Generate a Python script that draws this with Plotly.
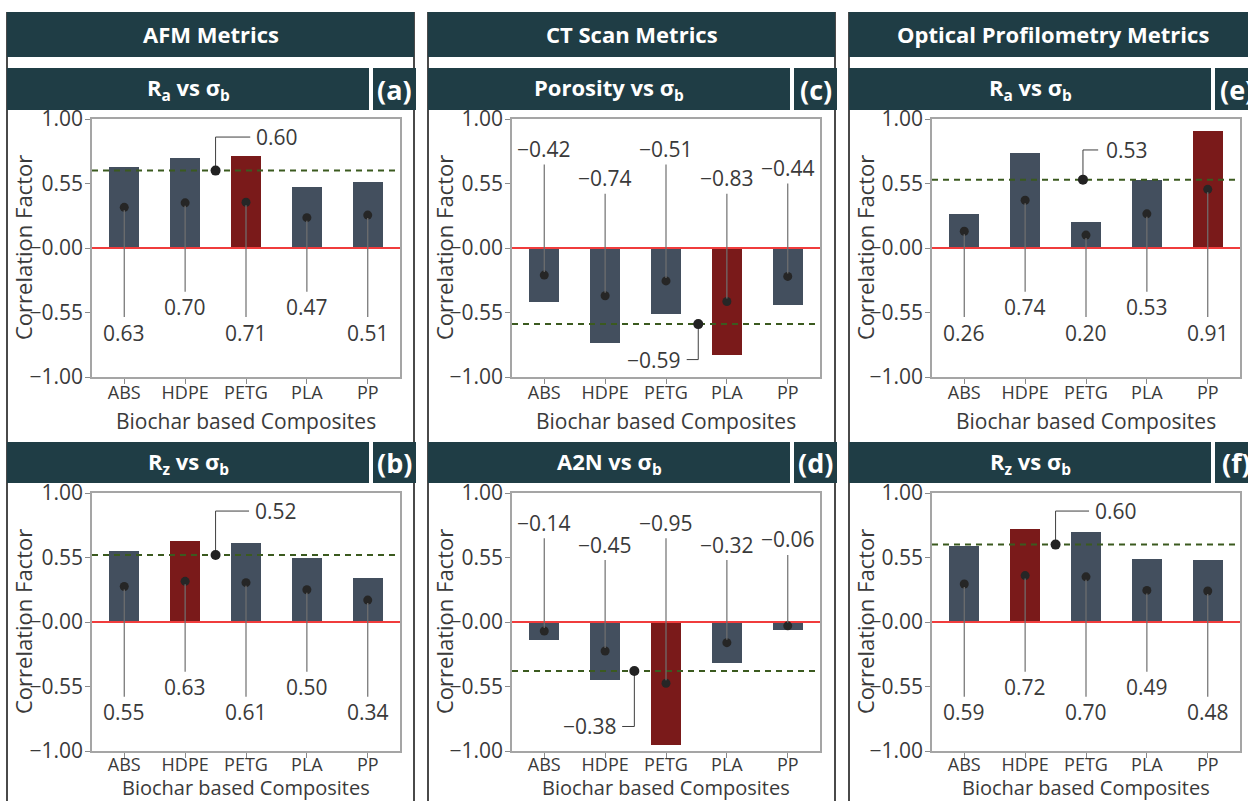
import numpy as np
import plotly.graph_objects as go

# ---------------- data ----------------
categories = ["ABS", "HDPE", "PETG", "PLA", "PP"]

afm_ra = [0.63, 0.70, 0.71, 0.47, 0.51]
afm_rz = [0.55, 0.63, 0.61, 0.50, 0.34]
ct_porosity = [-0.42, -0.74, -0.51, -0.83, -0.44]
ct_a2n = [-0.14, -0.45, -0.95, -0.32, -0.06]
op_ra = [0.26, 0.74, 0.20, 0.53, 0.91]
op_rz = [0.59, 0.72, 0.70, 0.49, 0.48]

mean_afm_ra = 0.60
mean_afm_rz = 0.52
mean_ct_porosity = -0.59
mean_ct_a2n = -0.38
mean_op_ra = 0.53
mean_op_rz = 0.60

ytick_vals = [-1.0, -0.5, 0.0, 0.5, 1.0]
ytick_text = ["−1.00", "−0.55", "−0.00", "0.55", "1.00"]

group_titles = ["AFM Metrics", "CT Scan Metrics", "Optical Profilometry Metrics"]
x_title = "Biochar based Composites"
y_title = "Correlation Factor"

# ---------------- styling / geometry ----------------
W, H = 1248, 801
FONT = "Open Sans"
HEAD_BG = "#1f3d45"
BAR_BASE = "#434f5e"
BAR_HI = "#7a1a1a"
ZERO_RED = "#f03c3c"
MEAN_GREEN = "#3b5a1f"
FRAME = "#a5a5a5"
TXT = "#3a3a3a"
COL_LINE = "#4a4a4a"

COL_BOX_LEFT = [7, 428, 849]
COL_BOX_W = 407
PLOT_LEFT = [92, 512, 932]
PLOT_W = 308
PLOT_TOP = [119, 493]
PLOT_H = 258
HEAD_Y = (12, 57)
SUB_Y = [(68, 110), (442, 483)]
XTITLE_Y = [421, 787]
XTITLE_SIZE = [21, 20]
XTICK_STANDOFF = [-6, -8]
X_RANGE = [-0.53, 4.53]


def px(x):
    return x / W


def py(y):
    return 1 - y / H


panels = [
    dict(tag="(a)", title="R<sub>a</sub> vs σ<sub>b</sub>", values=afm_ra, mean=mean_afm_ra,
         row=0, col=0, lab_y=[-0.656, -0.46, -0.656, -0.46, -0.656],
         mean_pos=(1.5, 0.86, 2.07, 2.13, "left")),
    dict(tag="(b)", title="R<sub>z</sub> vs σ<sub>b</sub>", values=afm_rz, mean=mean_afm_rz,
         row=1, col=0, lab_y=[-0.70, -0.505, -0.70, -0.505, -0.70],
         mean_pos=(1.5, 0.86, 2.05, 2.11, "left")),
    dict(tag="(c)", title="Porosity vs σ<sub>b</sub>", values=ct_porosity, mean=mean_ct_porosity,
         row=0, col=1, lab_y=[0.768, 0.54, 0.768, 0.54, 0.62],
         mean_pos=(2.53, -0.865, 2.34, 2.28, "right")),
    dict(tag="(d)", title="A2N vs σ<sub>b</sub>", values=ct_a2n, mean=mean_ct_a2n,
         row=1, col=1, lab_y=[0.77, 0.60, 0.77, 0.60, 0.64],
         mean_pos=(1.48, -0.81, 1.28, 1.22, "right")),
    dict(tag="(e)", title="R<sub>a</sub> vs σ<sub>b</sub>", values=op_ra, mean=mean_op_ra,
         row=0, col=2, lab_y=[-0.656, -0.46, -0.656, -0.46, -0.656],
         mean_pos=(1.95, 0.76, 2.2, 2.3, "left")),
    dict(tag="(f)", title="R<sub>z</sub> vs σ<sub>b</sub>", values=op_rz, mean=mean_op_rz,
         row=1, col=2, lab_y=[-0.70, -0.505, -0.70, -0.505, -0.70],
         mean_pos=(1.5, 0.86, 2.05, 2.11, "left")),
]


def fmt(v):
    return f"{v:.2f}".replace("-", "−")


fig = go.Figure()
shapes = []
annotations = []
layout_axes = {}

# column frame lines
for xl in [7, 414, 428, 835, 849]:
    shapes.append(dict(type="line", xref="paper", yref="paper",
                       x0=px(xl), x1=px(xl), y0=py(HEAD_Y[0]), y1=py(H + 5),
                       line=dict(color=COL_LINE, width=2)))

# group headers
for c, title in enumerate(group_titles):
    x0 = COL_BOX_LEFT[c]
    x1 = x0 + COL_BOX_W
    shapes.append(dict(type="rect", xref="paper", yref="paper",
                       x0=px(x0), x1=px(x1), y0=py(HEAD_Y[1]), y1=py(HEAD_Y[0]),
                       fillcolor=HEAD_BG, line=dict(width=0)))
    annotations.append(dict(xref="paper", yref="paper", x=px((x0 + x1) / 2),
                            y=py(sum(HEAD_Y) / 2), text=title, showarrow=False,
                            xanchor="center", yanchor="middle",
                            font=dict(family=FONT, size=22, color="white", weight="bold")))

idx = list(range(len(categories)))

for k, p in enumerate(panels, start=1):
    xa, ya = f"x{k}", f"y{k}"
    r, c = p["row"], p["col"]
    vals = p["values"]
    hi = int(np.argmax(np.abs(vals)))
    colors = [BAR_HI if i == hi else BAR_BASE for i in idx]

    # sub-header boxes
    bx = COL_BOX_LEFT[c]
    sy0, sy1 = SUB_Y[r]
    shapes.append(dict(type="rect", xref="paper", yref="paper",
                       x0=px(bx), x1=px(bx + 362), y0=py(sy1), y1=py(sy0),
                       fillcolor=HEAD_BG, line=dict(width=0)))
    shapes.append(dict(type="rect", xref="paper", yref="paper",
                       x0=px(bx + 366), x1=px(bx + 409), y0=py(sy1), y1=py(sy0),
                       fillcolor=HEAD_BG, line=dict(width=0)))
    annotations.append(dict(xref="paper", yref="paper", x=px(bx + 181), y=py((sy0 + sy1) / 2),
                            text=p["title"], showarrow=False, xanchor="center", yanchor="middle",
                            font=dict(family=FONT, size=22, color="white", weight="bold")))
    annotations.append(dict(xref="paper", yref="paper", x=px(bx + 387.5), y=py((sy0 + sy1) / 2),
                            text=p["tag"], showarrow=False, xanchor="center", yanchor="middle",
                            font=dict(family=FONT, size=27, color="white", weight="bold")))

    # axes
    pl = PLOT_LEFT[c]
    pt = PLOT_TOP[r]
    layout_axes[f"xaxis{k}"] = dict(
        domain=[px(pl), px(pl + PLOT_W)], anchor=ya, range=X_RANGE,
        tickvals=idx, ticktext=categories, ticks="outside", ticklen=5,
        tickcolor="#8a8a8a", showline=True, mirror=True, linecolor=FRAME, linewidth=1.5,
        showgrid=False, zeroline=False, fixedrange=True, automargin=False,
        ticklabelstandoff=XTICK_STANDOFF[r],
        tickfont=dict(family=FONT, size=18, color=TXT))
    layout_axes[f"yaxis{k}"] = dict(
        domain=[py(pt + PLOT_H), py(pt)], anchor=xa, range=[-1, 1],
        tickvals=ytick_vals, ticktext=ytick_text, ticks="outside", ticklen=5,
        tickcolor="#8a8a8a", showline=True, mirror=True, linecolor=FRAME, linewidth=1.5,
        showgrid=False, zeroline=False, fixedrange=True, automargin=False,
        ticklabelstandoff=-2,
        tickfont=dict(family=FONT, size=21, color=TXT))

    # axis titles
    annotations.append(dict(xref="paper", yref="paper", x=px(bx + 16), y=py(pt + PLOT_H / 2),
                            text=y_title, textangle=-90, showarrow=False,
                            xanchor="center", yanchor="middle",
                            font=dict(family=FONT, size=22, color=TXT)))
    annotations.append(dict(xref="paper", yref="paper", x=px(pl + PLOT_W / 2), y=py(XTITLE_Y[r]),
                            text=x_title, showarrow=False, xanchor="center", yanchor="middle",
                            borderpad=0,
                            font=dict(family=FONT, size=XTITLE_SIZE[r], color=TXT)))

    # bars
    fig.add_trace(go.Bar(x=idx, y=vals, marker=dict(color=colors, line=dict(width=0)),
                         width=0.5, xaxis=xa, yaxis=ya, showlegend=False, hoverinfo="skip"))
    # zero reference
    fig.add_trace(go.Scatter(x=X_RANGE, y=[0, 0], mode="lines",
                             line=dict(color=ZERO_RED, width=2), xaxis=xa, yaxis=ya,
                             showlegend=False, hoverinfo="skip"))
    # mean reference
    m = p["mean"]
    fig.add_trace(go.Scatter(x=X_RANGE, y=[m, m], mode="lines",
                             line=dict(color=MEAN_GREEN, width=2, dash="6px,5px"),
                             xaxis=xa, yaxis=ya, showlegend=False, hoverinfo="skip"))
    # mean callout
    dx, ey, ex, tx, anch = p["mean_pos"]
    fig.add_trace(go.Scatter(x=[dx, dx, ex], y=[m, ey, ey], mode="lines",
                             line=dict(color="#3f3f3f", width=1), xaxis=xa, yaxis=ya,
                             showlegend=False, hoverinfo="skip"))
    fig.add_trace(go.Scatter(x=[dx], y=[m], mode="markers",
                             marker=dict(color="#222222", size=10), xaxis=xa, yaxis=ya,
                             showlegend=False, hoverinfo="skip"))
    annotations.append(dict(xref=xa, yref=ya, x=tx, y=ey, text=fmt(m), showarrow=False,
                            xanchor=anch, yanchor="middle",
                            font=dict(family=FONT, size=21, color=TXT)))

    # value labels with leaders anchored at bar mid-height
    mids = [v / 2 for v in vals]
    for i, v in enumerate(vals):
        annotations.append(dict(xref=xa, yref=ya, x=i, y=mids[i],
                                axref=xa, ayref=ya, ax=i, ay=p["lab_y"][i],
                                text=fmt(v), showarrow=True, arrowhead=0, arrowwidth=1.2,
                                arrowcolor="#707070", standoff=3,
                                font=dict(family=FONT, size=21, color=TXT)))
    fig.add_trace(go.Scatter(x=idx, y=mids, mode="markers",
                             marker=dict(color="#262626", size=9), xaxis=xa, yaxis=ya,
                             showlegend=False, hoverinfo="skip"))

fig.update_layout(
    width=W, height=H, autosize=False,
    margin=dict(l=0, r=0, t=0, b=0, pad=0, autoexpand=False),
    paper_bgcolor="white", plot_bgcolor="white",
    font=dict(family=FONT, color=TXT),
    shapes=shapes, annotations=annotations,
    showlegend=False, bargap=0,
    **layout_axes,
)

fig.write_html("out.html", config={"displayModeBar": False})
